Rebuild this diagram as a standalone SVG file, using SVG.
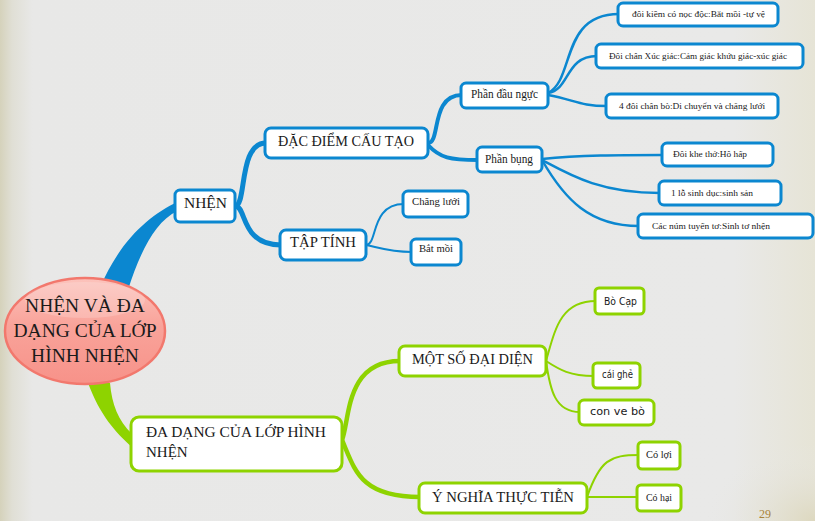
<svg xmlns="http://www.w3.org/2000/svg" width="815" height="521" viewBox="0 0 815 521">
<defs>
<linearGradient id="bg" x1="0" y1="0" x2="1" y2="0">
<stop offset="0" stop-color="#d5d2bb"/>
<stop offset="0.015" stop-color="#e0dfd5"/>
<stop offset="0.04" stop-color="#e8e8e7"/>
<stop offset="0.9" stop-color="#e9e9e8"/>
<stop offset="1" stop-color="#e6e4d6"/>
</linearGradient>
<radialGradient id="corner" cx="1" cy="1" r="0.35">
<stop offset="0" stop-color="#ddd8bf"/>
<stop offset="1" stop-color="#e8e8e6" stop-opacity="0"/>
</radialGradient>
<linearGradient id="ell" x1="0" y1="0" x2="0" y2="1">
<stop offset="0" stop-color="#fcc3bc"/>
<stop offset="0.45" stop-color="#f9a39a"/>
<stop offset="1" stop-color="#f79289"/>
</linearGradient>
<style>
.bx{fill:#fff;stroke-width:3}
.b{stroke:#0b87d0}
.g{stroke:#8ed300}
.c{fill:none;stroke-linecap:round}
.cb{stroke:#0b87d0}
.cg{stroke:#8ed300}
.t{font-family:"Liberation Serif","Times New Roman",serif;fill:#1a1a1a}
.s{font-family:"DejaVu Sans","Liberation Sans",sans-serif;fill:#1a1a1a}
</style>
</defs>
<rect width="815" height="521" fill="url(#bg)"/>
<rect x="500" y="300" width="315" height="221" fill="url(#corner)"/>

<g id="connectors">
<path d="M100,288 C120,240 150,215 177,202 L177,211 C155,222 140,252 128,290 Z" fill="#0b87d0"/>
<path d="M88,383 C100,415 115,432 132,447 L132,434 C118,420 112,405 110,383 Z" fill="#8ed300"/>
<path class="c cb" stroke-width="5" d="M235,206 C247,206 238,143 266,143"/>
<path class="c cb" stroke-width="5" d="M235,206 C247,206 240,245 281,245"/>
<path class="c cb" stroke-width="4" d="M428,143 C441,143 430,95 462,95"/>
<path class="c cb" stroke-width="4" d="M428,145 C440,158 450,160 478,160"/>
<path class="c cb" stroke-width="2" d="M366,245 C378,245 370,204 404,204"/>
<path class="c cb" stroke-width="2" d="M366,245 C380,248 390,252 412,252"/>
<path class="c cb" stroke-width="2.5" d="M548,93 C575,80 560,14 619,14"/>
<path class="c cb" stroke-width="2.5" d="M548,93 C570,90 565,56 597,56"/>
<path class="c cb" stroke-width="2.5" d="M548,95 C575,100 580,106 607,106"/>
<path class="c cb" stroke-width="2.5" d="M542,159 C580,155 620,155 663,155"/>
<path class="c cb" stroke-width="2.5" d="M542,160 C570,175 600,193 660,193"/>
<path class="c cb" stroke-width="2.5" d="M542,160 C565,200 590,226 639,226"/>
<path class="c cg" stroke-width="4.5" d="M342,440 C350,420 345,361 400,361"/>
<path class="c cg" stroke-width="4.5" d="M342,440 C355,470 360,497 420,497"/>
<path class="c cg" stroke-width="2" d="M546,361 C555,330 560,301 596,301"/>
<path class="c cg" stroke-width="2" d="M546,361 C560,370 570,376 594,376"/>
<path class="c cg" stroke-width="2" d="M546,361 C550,390 555,412 580,412"/>
<path class="c cg" stroke-width="2" d="M587,497 C600,460 610,455 639,455"/>
<path class="c cg" stroke-width="2" d="M587,497 L638,497"/>
</g>

<g id="root">
<ellipse cx="85" cy="331" rx="80" ry="53" fill="url(#ell)" stroke="#f2786d" stroke-width="2.5"/>
<ellipse cx="85" cy="300" rx="60" ry="18" fill="#fff" opacity="0.18"/>
<text class="t" font-size="19.5" text-anchor="middle"><tspan x="85" y="312">NHỆN VÀ ĐA</tspan><tspan x="85" y="337">DẠNG CỦA LỚP</tspan><tspan x="85" y="362">HÌNH NHỆN</tspan></text>
</g>

<g id="nhen">
<rect class="bx b" x="175" y="190" width="60" height="32" rx="5"/>
<text class="t" font-size="15" x="205.5" y="208" text-anchor="middle" textLength="43" lengthAdjust="spacingAndGlyphs">NHỆN</text>
</g>
<g id="dacdiem">
<rect class="bx b" x="265" y="128" width="163" height="30" rx="6"/>
<text class="t" font-size="15" x="346" y="146" text-anchor="middle" textLength="136" lengthAdjust="spacingAndGlyphs">ĐẶC ĐIỂM CẤU TẠO</text>
</g>
<g id="taptinh">
<rect class="bx b" x="280" y="230" width="86" height="30" rx="6"/>
<text class="t" font-size="15" x="323" y="247" text-anchor="middle" textLength="66" lengthAdjust="spacingAndGlyphs">TẬP TÍNH</text>
</g>
<g id="phandaunguc">
<rect class="bx b" x="461" y="83" width="87" height="25" rx="5"/>
<text class="t" font-size="12" x="504.5" y="98" text-anchor="middle" textLength="67" lengthAdjust="spacingAndGlyphs">Phần đầu ngực</text>
</g>
<g id="phanbung">
<rect class="bx b" x="477" y="147" width="65" height="25" rx="5"/>
<text class="t" font-size="12" x="509" y="163" text-anchor="middle" textLength="48" lengthAdjust="spacingAndGlyphs">Phần bụng</text>
</g>
<g id="changluoi">
<rect class="bx b" x="403" y="191" width="65" height="26" rx="5"/>
<text class="t" font-size="11" x="436" y="205" text-anchor="middle" textLength="48" lengthAdjust="spacingAndGlyphs">Chăng lưới</text>
</g>
<g id="batmoi">
<rect class="bx b" x="411" y="239" width="50" height="26" rx="5"/>
<text class="t" font-size="11" x="436" y="252" text-anchor="middle" textLength="34" lengthAdjust="spacingAndGlyphs">Bắt mồi</text>
</g>
<g id="doikiem">
<rect class="bx b" x="618" y="3" width="160" height="23" rx="5"/>
<text class="t" font-size="9" x="698.5" y="17" text-anchor="middle" textLength="133" lengthAdjust="spacingAndGlyphs">đôi kiềm có nọc độc:Bắt mồi -tự vệ</text>
</g>
<g id="doichanxucgiac">
<rect class="bx b" x="596" y="44" width="207" height="24" rx="5"/>
<text class="t" font-size="9" x="698" y="59" text-anchor="middle" textLength="178" lengthAdjust="spacingAndGlyphs">Đôi chân Xúc giác:Cảm giác khứu giác-xúc giác</text>
</g>
<g id="bondoichanbo">
<rect class="bx b" x="606" y="94" width="172" height="24" rx="5"/>
<text class="t" font-size="9" x="692" y="109" text-anchor="middle" textLength="146" lengthAdjust="spacingAndGlyphs">4 đôi chân bò:Di chuyển và chăng lưới</text>
</g>
<g id="doikhetho">
<rect class="bx b" x="662" y="143" width="111" height="23" rx="5"/>
<text class="t" font-size="9" x="673" y="157" textLength="74" lengthAdjust="spacingAndGlyphs">Đôi khe thở:Hô hấp</text>
</g>
<g id="losinhduc">
<rect class="bx b" x="659" y="181" width="122" height="24" rx="5"/>
<text class="t" font-size="9" x="671" y="196" textLength="82" lengthAdjust="spacingAndGlyphs">1 lỗ sinh dục:sinh sản</text>
</g>
<g id="numtuyento">
<rect class="bx b" x="638" y="214" width="175" height="24" rx="5"/>
<text class="t" font-size="9" x="652" y="229" textLength="118" lengthAdjust="spacingAndGlyphs">Các núm tuyến tơ:Sinh tơ nhện</text>
</g>

<g id="dadang">
<rect class="bx g" x="131" y="417" width="211" height="54" rx="8"/>
<text class="t" font-size="15"><tspan x="146" y="437" textLength="180" lengthAdjust="spacingAndGlyphs">ĐA DẠNG CỦA LỚP HÌNH</tspan><tspan x="146" y="457">NHỆN</tspan></text>
</g>
<g id="motsodaidien">
<rect class="bx g" x="399" y="346" width="147" height="30" rx="6"/>
<text class="t" font-size="15" x="472.5" y="364" text-anchor="middle" textLength="121" lengthAdjust="spacingAndGlyphs">MỘT SỐ ĐẠI DIỆN</text>
</g>
<g id="ynghia">
<rect class="bx g" x="419" y="483" width="168" height="30" rx="6"/>
<text class="t" font-size="15" x="503" y="502" text-anchor="middle" textLength="142" lengthAdjust="spacingAndGlyphs">Ý NGHĨA THỰC TIỄN</text>
</g>
<g id="bocap">
<rect class="bx g" x="595" y="288" width="49" height="26" rx="4"/>
<text class="s" font-size="10" x="620.5" y="305" text-anchor="middle" textLength="33" lengthAdjust="spacingAndGlyphs">Bò Cạp</text>
</g>
<g id="caighe">
<rect class="bx g" x="593" y="363" width="47" height="25" rx="4"/>
<text class="s" font-size="10" x="617.5" y="378" text-anchor="middle" textLength="31" lengthAdjust="spacingAndGlyphs">cái ghẻ</text>
</g>
<g id="convebo">
<rect class="bx g" x="579" y="400" width="75" height="25" rx="5"/>
<text class="s" font-size="11" x="617.5" y="415" text-anchor="middle" textLength="55" lengthAdjust="spacingAndGlyphs">con ve bò</text>
</g>
<g id="coloi">
<rect class="bx g" x="638" y="442" width="42" height="27" rx="4"/>
<text class="t" font-size="10" x="659" y="458" text-anchor="middle" textLength="26" lengthAdjust="spacingAndGlyphs">Có lợi</text>
</g>
<g id="cohai">
<rect class="bx g" x="637" y="485" width="44" height="26" rx="4"/>
<text class="t" font-size="10" x="659" y="501" text-anchor="middle" textLength="26" lengthAdjust="spacingAndGlyphs">Có hại</text>
</g>
<text class="t" font-size="12" x="759" y="518" style="fill:#a8823a">29</text>
</svg>
